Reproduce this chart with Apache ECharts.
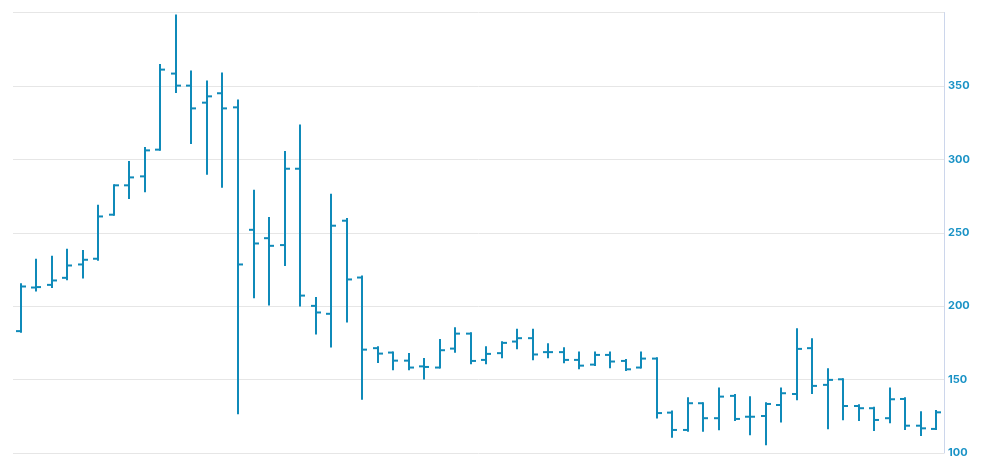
<!DOCTYPE html>
<html>
<head>
<meta charset="utf-8">
<script src="https://cdn.jsdelivr.net/npm/echarts@6/dist/echarts.min.js"></script>
<style>html,body{margin:0;padding:0;background:#fff}#c{width:998px;height:475px}</style>
</head>
<body>
<div id="c"></div>
<script>
var opens  = [183,212.7,214.5,219.3,228.4,232.3,262.3,282.3,288.4,306.6,358.4,350.2,338.6,345,335.4,252,246.3,241.6,293.6,200.2,194.8,258.2,219.5,171.4,168.4,162.9,159,158.2,171.1,181.3,163.4,168,175.9,178.2,168.7,168.7,163.4,160.2,166.8,162.7,158.2,164.3,127.5,115.7,133.9,123.7,138.9,124.7,125.2,132.7,140.2,171.4,146.4,150.2,132,130.5,123.7,136.8,118.6,116.4];
var highs  = [215,231.6,233.6,238.4,237.5,268.4,282.3,298.2,307.7,364.3,398,359.8,353,358.4,340,278.6,260,305,323,205.5,275.9,259.3,220.2,172,168.4,167.5,164.1,177,185,181.6,172,175.5,183.9,183.9,174.1,171.4,168.4,168.4,168.4,163.4,168.4,164.5,128.2,137.3,133.9,144,139.5,137.9,133.9,144,184.3,177.5,157,150.2,132.5,130.9,144,137.3,127.7,128.6];
var lows   = [182.5,210.7,213,218.4,219.5,231.6,262.3,273.7,278.2,306.6,345.9,311.2,290.2,281.4,127,206,201.1,228,200.4,181.3,172.5,189.5,137,162,157,157,150.7,158.2,169,161.2,161.2,165.2,171.4,163.9,165.2,161.8,157.8,160,158.4,156.6,158.2,124.1,111.1,115.2,115.2,116.1,122.5,112.7,105.9,121.4,136.6,140.9,116.8,123,122.5,115.7,120.9,116.4,112.3,116.4];
var closes = [213.4,213,217.5,227.7,231.6,261.1,282.3,287.7,306.1,361.1,350.2,334.7,342.9,334.7,228.4,242.7,241.1,293.6,207.2,195.7,254.8,218.2,170.4,167.7,162.9,158.2,158.6,170,181.3,162.7,167.5,175,178.2,167.1,168.7,163.4,159.5,166.8,162.3,157,164.3,127.2,115.7,133.9,123.7,138.4,123.2,124.7,133.4,140.7,170.9,145.7,149.8,132,130.5,122.5,136.6,118.6,116.8,127.7];
var categories = opens.map(function(_, i){ return String(i + 1); });
var yTicks = [100, 150, 200, 250, 300, 350, 400];

var data = opens.map(function(o, i){ return [i, o, highs[i], lows[i], closes[i]]; });

var chart = echarts.init(document.getElementById('c'));
var color = '#0f8ab9';
chart.setOption({
  animation: false,
  grid: {left: 13, right: 54, top: 12.5, bottom: 22, containLabel: false},
  xAxis: {
    type: 'category', data: categories, boundaryGap: true,
    axisLine: {show: false}, axisTick: {show: false}, axisLabel: {show: false},
    splitLine: {show: false}
  },
  yAxis: {
    type: 'value', position: 'right', min: yTicks[0], max: yTicks[yTicks.length - 1], interval: 50,
    axisLine: {show: true, lineStyle: {color: '#ccd6eb', width: 1}},
    axisTick: {show: false},
    axisLabel: {show: true, showMaxLabel: false, color: '#1b93c6', fontFamily: 'Inter, "DejaVu Sans", sans-serif', fontWeight: 'bold', fontSize: 11, margin: 4},
    splitLine: {show: true, lineStyle: {color: '#e6e6e6', width: 1}}
  },
  series: [{
    type: 'custom',
    data: data,
    encode: {x: 0, y: [1, 2, 3, 4]},
    renderItem: function(params, api){
      var idx = api.value(0);
      var pO = api.coord([idx, api.value(1)]);
      var pH = api.coord([idx, api.value(2)]);
      var pL = api.coord([idx, api.value(3)]);
      var pC = api.coord([idx, api.value(4)]);
      var x = Math.round(pO[0]);
      var t = 5;
      var st = {stroke: color, lineWidth: 2};
      return {
        type: 'group',
        children: [
          {type: 'line', shape: {x1: x, y1: pH[1] - 1, x2: x, y2: pL[1] + 1}, style: st},
          {type: 'line', shape: {x1: x - t, y1: pO[1], x2: x, y2: pO[1]}, style: st},
          {type: 'line', shape: {x1: x, y1: pC[1], x2: x + t, y2: pC[1]}, style: st}
        ]
      };
    }
  }]
});
</script>
</body>
</html>
